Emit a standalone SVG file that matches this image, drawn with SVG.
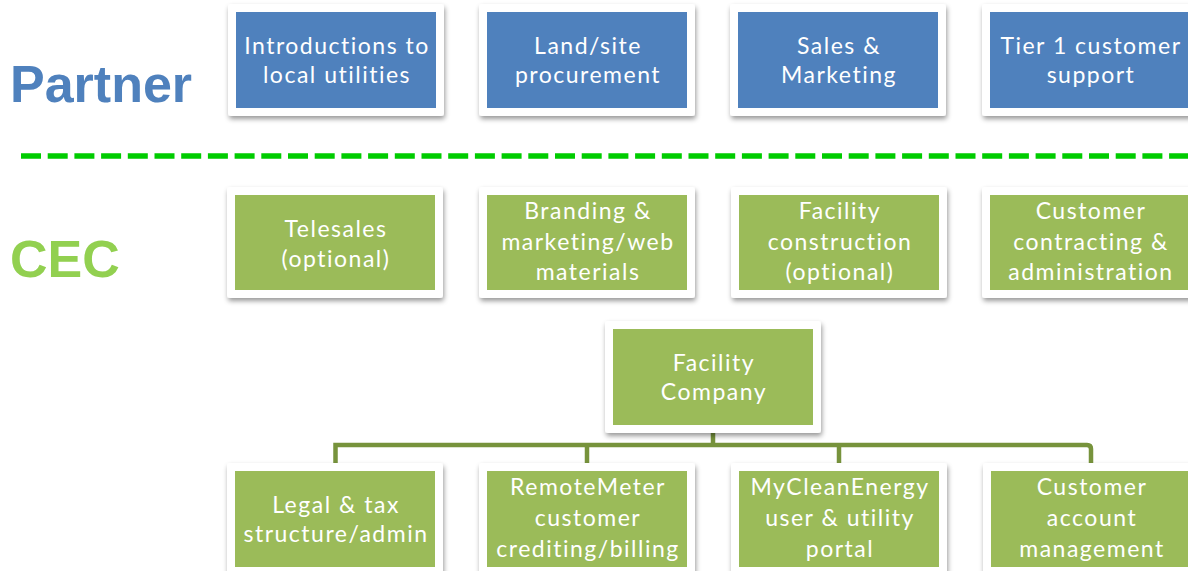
<svg xmlns="http://www.w3.org/2000/svg" width="1188" height="571" viewBox="0 0 1188 571">
  <defs>
    <filter id="sh" x="-10%" y="-10%" width="130%" height="140%">
      <feDropShadow dx="1" dy="3" stdDeviation="2.4" flood-color="#000" flood-opacity="0.4"/>
    </filter>
  </defs>
  <style>
    .frame { fill: #ffffff; filter: url(#sh); }
    .blue { fill: #4F81BD; }
    .green { fill: #9BBB59; }
    .t { font-family: Lato, "Open Sans", sans-serif; font-size: 23px; fill: #ffffff; text-anchor: middle; letter-spacing: 1.5px; }
    .lbl { font-family: "Liberation Sans", Arial, sans-serif; font-weight: bold; font-size: 52px; }
    .conn { fill: none; stroke: #77933C; stroke-width: 4.5; }
  </style>
  <rect width="1188" height="571" fill="#ffffff"/>

  <text class="lbl" x="10" y="102" fill="#4F81BD">Partner</text>
  <text class="lbl" x="10" y="277" fill="#92D050">CEC</text>

  <line x1="21" y1="156" x2="1188" y2="156" stroke="#00CC00" stroke-width="5.5" stroke-dasharray="20 6.7"/>

  <g id="connectors">
    <path class="conn" d="M713,430 V445"/>
    <path class="conn" d="M335.5,470 V445 H1087 Q1091,445 1091,449 V470"/>
    <path class="conn" d="M587,445 V470"/>
    <path class="conn" d="M839,445 V470"/>
  </g>

  <g id="p1">
    <rect class="frame" x="228" y="4" width="216" height="112" rx="3"/>
    <rect class="blue" x="236" y="12" width="200" height="96"/>
    <text class="t" x="337" y="54">Introductions to</text>
    <text class="t" x="337" y="83">local utilities</text>
  </g>
  <g id="p2">
    <rect class="frame" x="479" y="4" width="216" height="112" rx="3"/>
    <rect class="blue" x="487" y="12" width="200" height="96"/>
    <text class="t" x="588" y="54">Land/site</text>
    <text class="t" x="588" y="83">procurement</text>
  </g>
  <g id="p3">
    <rect class="frame" x="730" y="4" width="216" height="112" rx="3"/>
    <rect class="blue" x="738" y="12" width="200" height="96"/>
    <text class="t" x="839" y="54">Sales &amp;</text>
    <text class="t" x="839" y="83">Marketing</text>
  </g>
  <g id="p4">
    <rect class="frame" x="982" y="4" width="216" height="112" rx="3"/>
    <rect class="blue" x="990" y="12" width="200" height="96"/>
    <text class="t" x="1091" y="54">Tier 1 customer</text>
    <text class="t" x="1091" y="83">support</text>
  </g>

  <g id="c1">
    <rect class="frame" x="227" y="187" width="216" height="111" rx="3"/>
    <rect class="green" x="235" y="195" width="200" height="95"/>
    <text class="t" x="336" y="237">Telesales</text>
    <text class="t" x="336" y="267">(optional)</text>
  </g>
  <g id="c2">
    <rect class="frame" x="479" y="187" width="216" height="111" rx="3"/>
    <rect class="green" x="487" y="195" width="200" height="95"/>
    <text class="t" x="588" y="219">Branding &amp;</text>
    <text class="t" x="588" y="250">marketing/web</text>
    <text class="t" x="588" y="280">materials</text>
  </g>
  <g id="c3">
    <rect class="frame" x="731" y="187" width="216" height="111" rx="3"/>
    <rect class="green" x="739" y="195" width="200" height="95"/>
    <text class="t" x="840" y="219">Facility</text>
    <text class="t" x="840" y="250">construction</text>
    <text class="t" x="840" y="280">(optional)</text>
  </g>
  <g id="c4">
    <rect class="frame" x="982" y="187" width="216" height="111" rx="3"/>
    <rect class="green" x="990" y="195" width="200" height="95"/>
    <text class="t" x="1091" y="219">Customer</text>
    <text class="t" x="1091" y="250">contracting &amp;</text>
    <text class="t" x="1091" y="280">administration</text>
  </g>

  <g id="facility">
    <rect class="frame" x="605" y="321" width="216" height="112" rx="3"/>
    <rect class="green" x="613" y="329" width="200" height="96"/>
    <text class="t" x="714" y="371">Facility</text>
    <text class="t" x="714" y="400">Company</text>
  </g>

  <g id="b1">
    <rect class="frame" x="227" y="463" width="216" height="112" rx="3"/>
    <rect class="green" x="235" y="471" width="200" height="96"/>
    <text class="t" x="336" y="513">Legal &amp; tax</text>
    <text class="t" x="336" y="542">structure/admin</text>
  </g>
  <g id="b2">
    <rect class="frame" x="479" y="463" width="216" height="112" rx="3"/>
    <rect class="green" x="487" y="471" width="200" height="96"/>
    <text class="t" x="588" y="495">RemoteMeter</text>
    <text class="t" x="588" y="526">customer</text>
    <text class="t" x="588" y="557">crediting/billing</text>
  </g>
  <g id="b3">
    <rect class="frame" x="731" y="463" width="216" height="112" rx="3"/>
    <rect class="green" x="739" y="471" width="200" height="96"/>
    <text class="t" x="840" y="495">MyCleanEnergy</text>
    <text class="t" x="840" y="526">user &amp; utility</text>
    <text class="t" x="840" y="557">portal</text>
  </g>
  <g id="b4">
    <rect class="frame" x="983" y="463" width="216" height="112" rx="3"/>
    <rect class="green" x="991" y="471" width="200" height="96"/>
    <text class="t" x="1092" y="495">Customer</text>
    <text class="t" x="1092" y="526">account</text>
    <text class="t" x="1092" y="557">management</text>
  </g>
</svg>
